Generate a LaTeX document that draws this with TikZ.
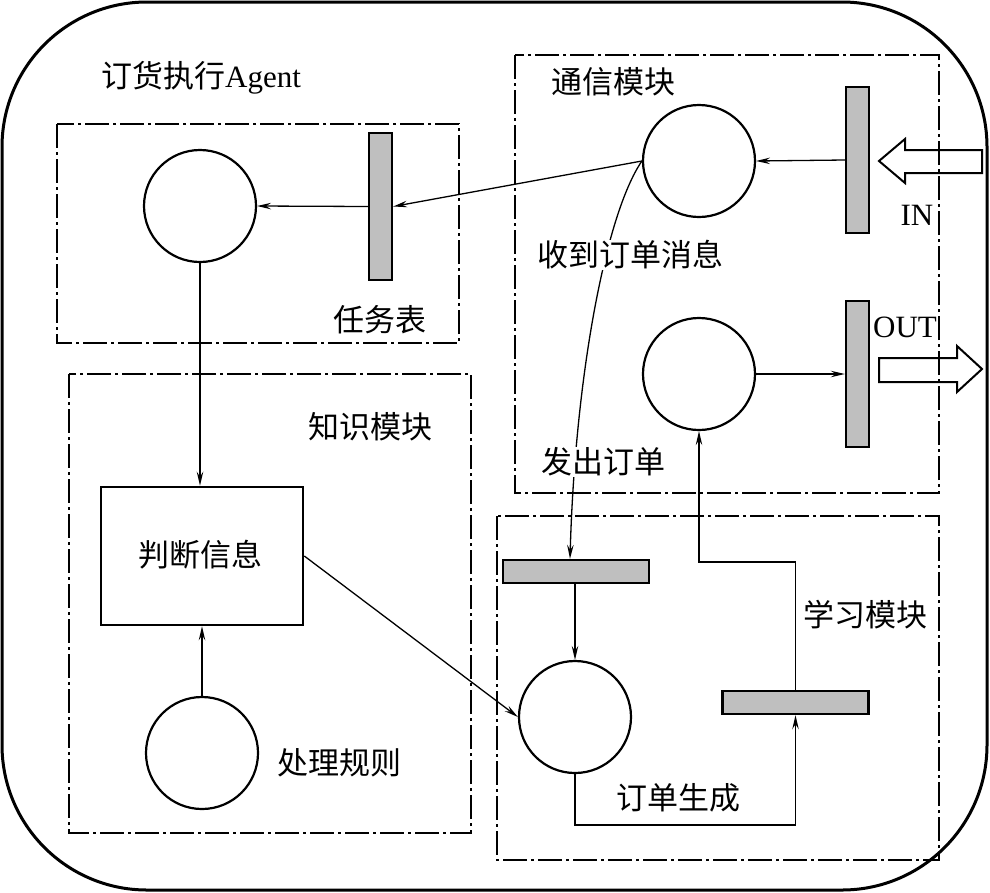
\documentclass[tikz,border=0pt]{standalone}
\usepackage{fontspec}
\setmainfont{Liberation Serif}
\newfontfamily\cjk{Noto Sans CJK SC}
\usetikzlibrary{arrows.meta}
\begin{document}
\begin{tikzpicture}[x=1pt,y=-1pt,
  place/.style={circle,draw,line width=2.2pt,minimum size=112pt,inner sep=0pt},
  vbar/.style={rectangle,draw,line width=2.4pt,fill=black!25,minimum width=23pt,minimum height=147pt,inner sep=0pt},
  hbar/.style={rectangle,draw,line width=2.4pt,fill=black!25,minimum width=146pt,minimum height=23pt,inner sep=0pt},
  module/.style={draw,line width=1.2pt,dash pattern=on 24pt off 4pt on 3pt off 4pt},
  arr/.style={line width=1.3pt,-{Stealth[length=14pt,width=6.5pt,inset=5pt]}},
  lbl/.style={font=\fontsize{31}{36}\selectfont\cjk,inner sep=1pt},
  latin/.style={font=\fontsize{31}{36}\selectfont,inner sep=1pt},
  blockarrow/.style={draw,line width=2pt,line join=miter}
]
\useasboundingbox (0,0) rectangle (990,892);
% outer agent frame
\draw[line width=3pt,rounded corners=145pt] (2,2) rectangle (987,890);

% module frames
\draw[module] (57,124) rectangle (459,343);
\draw[module] (69,374) rectangle (471,833);
\draw[module] (515,55) rectangle (939,493);
\draw[module] (497,516) rectangle (939,860);

% block arrows IN / OUT
\draw[blockarrow] (982,150) -- (905,150) -- (905,139) -- (879,161) -- (905,183) -- (905,173) -- (982,173) -- cycle;
\draw[blockarrow] (879,358) -- (957,358) -- (957,346) -- (982,369) -- (957,392) -- (957,382) -- (879,382) -- cycle;

% nodes
\node[place] (a1) at (200,206) {};
\node[vbar] (tb) at (380.5,206.5) {};
\node[rectangle,draw,line width=2.6pt,minimum width=202pt,minimum height=138pt,inner sep=0pt] (judge) at (202,556) {};
\node[place] (rule) at (202,753) {};
\node[place] (c1) at (699,161) {};
\node[place] (c2) at (699,374) {};
\node[vbar,minimum height=146pt] (bin) at (857.5,160) {};
\node[vbar,minimum height=146pt] (bout) at (857.5,374) {};
\node[hbar] (b1) at (576,571.5) {};
\node[place] (oc) at (575,717) {};
\node[hbar] (b2) at (795.5,702.5) {};

\coordinate (lowY) at (0,825);
\coordinate (midY) at (0,562);

% connectors
\draw[arr] (bin.west) -- (c1.east);
\draw[arr] (c2.east) -- (bout.west);
\draw[arr] (c1.west) -- (tb.east);
\draw[arr] (tb.west) -- (a1.east);
\draw[arr] (a1.south) -- (a1.south |- judge.north);
\draw[arr] (rule.north) -- (rule.north |- judge.south);
\draw[arr] (judge.east) -- (oc.west);
\draw[arr] (c1.west) .. controls (605,215) and (575,380) .. ([xshift=-6pt]b1.north);
\draw[arr] (b1.south -| oc.north) -- (oc.north);
\draw[arr] (oc.south) -- (oc.south |- lowY) -| (b2.south);
\draw[arr] (b2.north) |- (c2.south |- midY) -- (c2.south);

% labels
\node[latin] (tagent) at (201,78) {{\cjk 订货执行}Agent};
\node[lbl] (ttask) at (380,320) {任务表};
\node[lbl] (tknow) at (370,427) {知识模块};
\node[lbl] (tjudge) at (200,555) {判断信息};
\node[lbl] (trule) at (339,763) {处理规则};
\node[lbl] (tcomm) at (613,82) {通信模块};
\node[lbl,fill=white] (trecv) at (630,255) {收到订单消息};
\node[lbl,fill=white] (tsend) at (603,462) {发出订单};
\node[latin] (tin) at (917,215) {IN};
\node[latin] (tout) at (905,327) {OUT};
\node[lbl] (tlearn) at (865,615) {学习模块};
\node[lbl] (tgen) at (678,798) {订单生成};
\end{tikzpicture}
\end{document}
